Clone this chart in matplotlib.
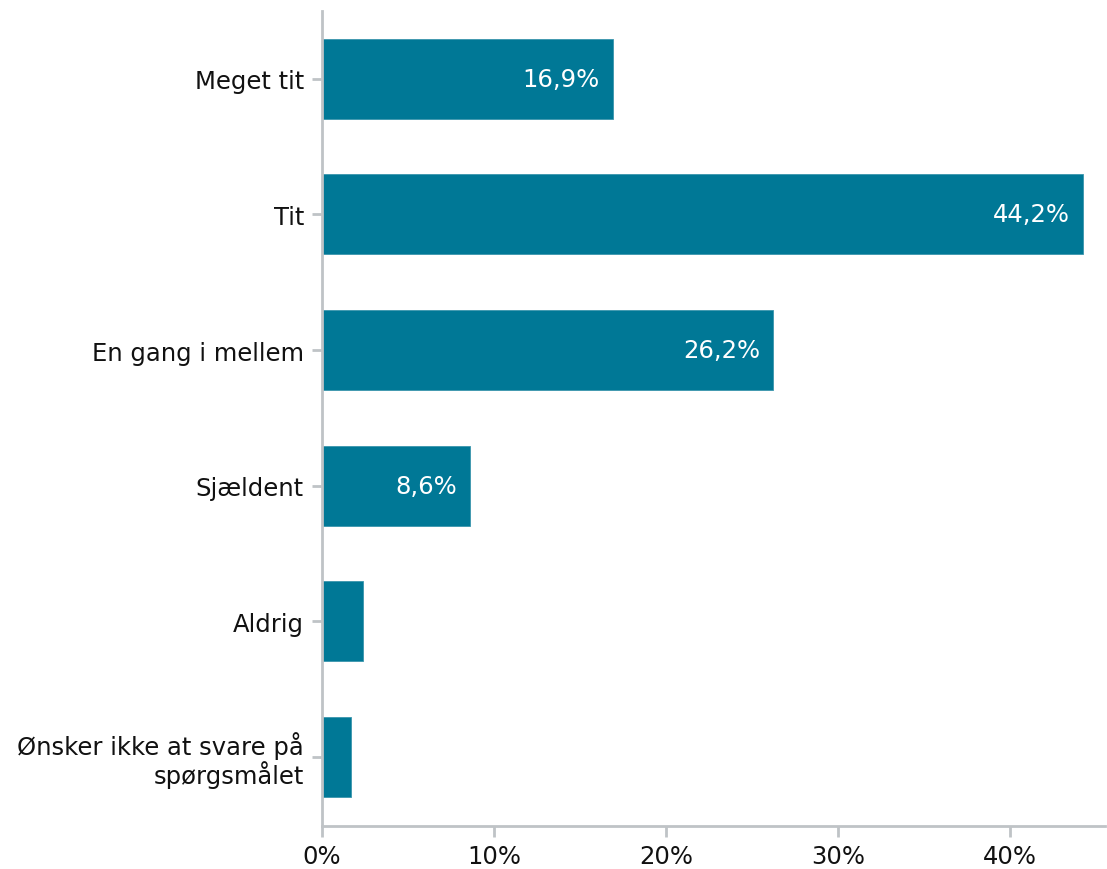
import matplotlib
matplotlib.use("Agg")
import matplotlib.pyplot as plt

categories = ["Meget tit", "Tit", "En gang i mellem", "Sjældent", "Aldrig",
              "Ønsker ikke at svare på\nspørgsmålet"]
values = [16.9, 44.2, 26.2, 8.6, 2.4, 1.7]
value_labels = ["16,9%", "44,2%", "26,2%", "8,6%", "", ""]
xticks = [0, 10, 20, 30, 40]
xticklabels = ["0%", "10%", "20%", "30%", "40%"]

color = "#007896"
axis_color = "#bfc3c6"

fig = plt.figure(figsize=(11.07, 8.7), dpi=100)
ax = fig.add_axes([0.2909, 0.0494, 0.7073, 0.9368])

y = list(range(len(categories)))
ax.barh(y, values, height=0.59, color=color, edgecolor="#3a95ad", linewidth=0.6)

for yi, v, lab in zip(y, values, value_labels):
    if lab:
        ax.text(v - 0.75, yi, lab, ha="right", va="center", color="white", fontsize=17.5)

ax.set_ylim(5.51, -0.5)
ax.set_xlim(0, 45.5)
ax.set_yticks(y)
ax.set_yticklabels(categories, fontsize=17.5, linespacing=1.05)
for t in ax.get_yticklabels():
    t.set_multialignment("right")
ax.set_xticks(xticks)
ax.set_xticklabels(xticklabels, fontsize=17.5)

for s in ["top", "right"]:
    ax.spines[s].set_visible(False)
for s in ["left", "bottom"]:
    ax.spines[s].set_color(axis_color)
    ax.spines[s].set_linewidth(2)
ax.tick_params(axis="x", colors=axis_color, labelcolor="#111111", length=8, width=2, pad=5)
ax.tick_params(axis="y", colors=axis_color, labelcolor="#111111", length=7, width=2, pad=6)

fig.savefig("out.png", dpi=100)
